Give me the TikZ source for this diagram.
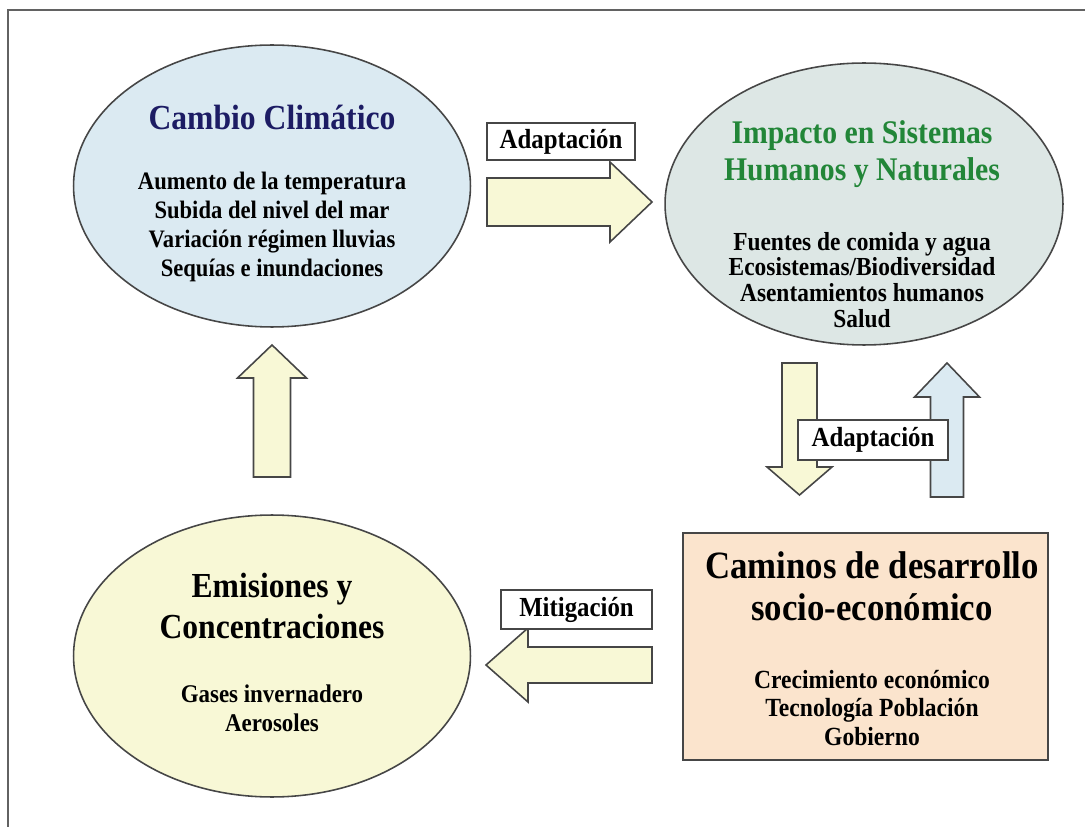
\documentclass[tikz,border=0pt]{standalone}
\usepackage{fontspec}
\setmainfont[FakeStretch=0.9]{Liberation Serif}
\usetikzlibrary{shapes.geometric, calc}
\definecolor{skyfill}{RGB}{219,234,242}
\definecolor{sagefill}{RGB}{221,231,229}
\definecolor{creamfill}{RGB}{248,248,214}
\definecolor{peachfill}{RGB}{251,228,205}
\definecolor{navytext}{RGB}{28,28,100}
\definecolor{greentext}{RGB}{34,134,56}
\definecolor{edgegray}{RGB}{70,70,70}
\newcommand{\txtsize}[2]{\fontsize{#1}{#2}\selectfont}
\tikzset{
  pics/barrow/.style n args={5}{code={
    \path[draw=edgegray, line width=0.9pt, fill=#5] (0,0) -- (-#3,#4) -- (-#3,#2) -- (-#1,#2)
      -- (-#1,-#2) -- (-#3,-#2) -- (-#3,-#4) -- cycle;
  }}
}

\begin{document}
\begin{tikzpicture}[x=0.02cm, y=-0.02cm, font=\bfseries,
  blob/.style={ellipse, draw=edgegray, line width=0.9pt, minimum width=7.94cm, minimum height=5.64cm},
  labelbox/.style={draw=edgegray, fill=white, line width=0.9pt, inner sep=0pt, font=\bfseries\txtsize{15.7}{17}}]
\useasboundingbox (0,0) rectangle (1085,827);
\draw[edgegray!85, line width=1.2pt] (8,827) -- (8,10) -- (1085,10);

% main blocks
\node[blob, fill=skyfill] (cc) at (272,186) {};
\node[blob, fill=sagefill, minimum width=7.96cm] (imp) at (864,204) {};
\node[blob, fill=creamfill] (emi) at (272,656) {};
\node[draw=edgegray, fill=peachfill, line width=1.4pt, minimum width=7.3cm, minimum height=4.54cm] (dev) at (865.5,646.5) {};

\node[text=navytext, font=\bfseries\txtsize{20}{24}] (ccT) at (272,117) {Cambio Climático};
\node[align=center, font=\bfseries\txtsize{14.3}{16.4}] (ccB) at (272,227)
  {Aumento de la temperatura\\Subida del nivel del mar\\Variación régimen lluvias\\Sequías e inundaciones};
\node[align=center, text=greentext, font=\bfseries\txtsize{18.8}{21}] (impT) at (862,154)
  {Impacto en Sistemas\\Humanos y Naturales};
\node[align=center, font=\bfseries\txtsize{14.8}{14.7}] (impB) at (862,280)
  {Fuentes de comida y agua\\Ecosistemas/Biodiversidad\\Asentamientos humanos\\Salud};
\node[align=center, font=\bfseries\txtsize{20}{23.8}] (emiT) at (272,606) {Emisiones y\\Concentraciones};
\node[align=center, font=\bfseries\txtsize{14.5}{16.4}] (emiB) at (272,708) {Gases invernadero\\Aerosoles};
\node[align=center, font=\bfseries\txtsize{22}{23.8}] (devT) at (872,586) {Caminos de desarrollo\\socio-económico};
\node[align=center, font=\bfseries\txtsize{14.9}{16.2}] (devB) at (872,708)
  {Crecimiento económico\\Tecnología Población\\Gobierno};

% block arrows
\coordinate (tipA) at (652,202);
\coordinate (tipB) at (799.5,495);
\coordinate (tipC) at (947,363);
\coordinate (tipD) at (486,665);
\coordinate (tipE) at (272,345);
\pic at (tipA) {barrow={165}{24}{42}{40}{creamfill}};
\pic[rotate=-90] at (tipB) {barrow={132}{17.5}{28}{32.5}{creamfill}};
\pic[rotate=90] at (tipC) {barrow={134}{16.5}{34}{32.5}{skyfill}};
\pic[rotate=180] at (tipD) {barrow={166}{18}{42}{37}{creamfill}};
\pic[rotate=90] at (tipE) {barrow={132}{18.5}{33}{34.5}{creamfill}};

% labels
\node[labelbox, minimum width=2.96cm, minimum height=0.74cm] (adapA) at (561,141.5) {Adaptación};
\node[labelbox, minimum width=3.0cm, minimum height=0.8cm] (adapB) at (873,440) {Adaptación};
\node[labelbox, minimum width=3.02cm, minimum height=0.78cm] (mitig) at (576.5,609.5) {Mitigación};
\end{tikzpicture}
\end{document}
